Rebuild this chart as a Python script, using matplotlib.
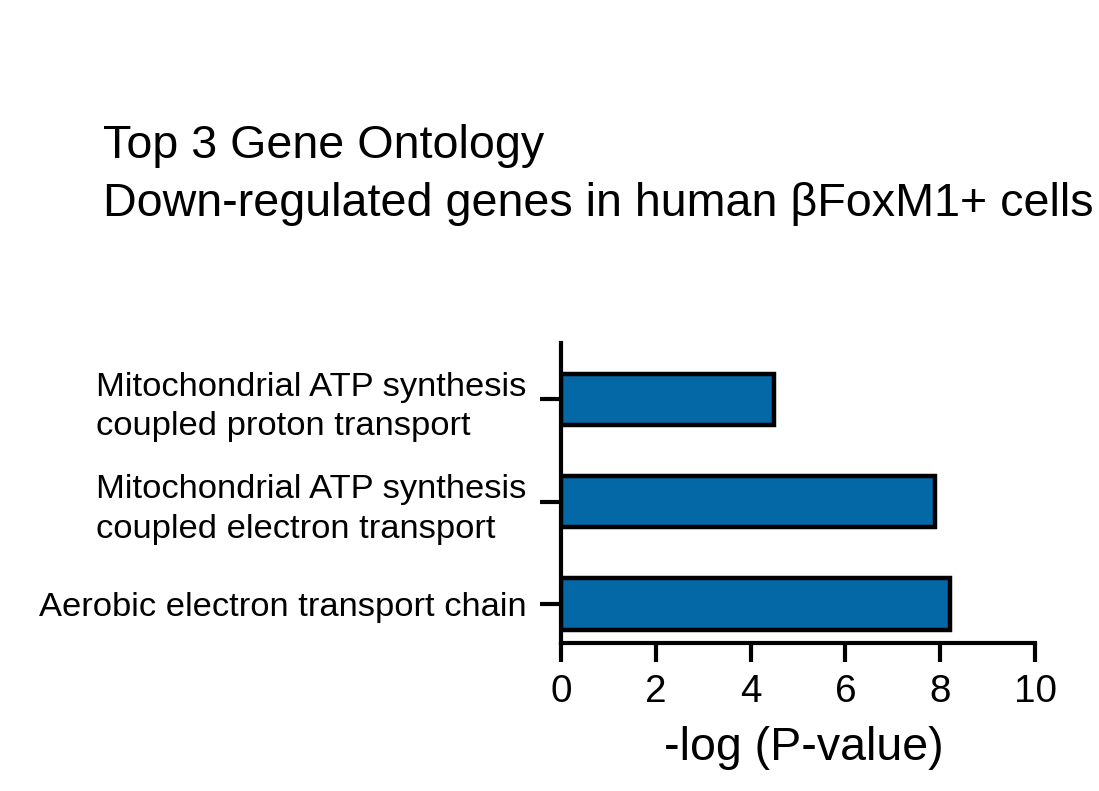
import numpy as np
import matplotlib.pyplot as plt

plt.rcParams['font.family'] = ['Liberation Sans', 'DejaVu Sans']

# categories listed bottom to top
terms = ["Aerobic electron transport chain",
         "Mitochondrial ATP synthesis\ncoupled electron transport",
         "Mitochondrial ATP synthesis\ncoupled proton transport"]
neg_log_p = [8.2, 7.9, 4.5]
x_ticks = [0, 2, 4, 6, 8, 10]

fig = plt.figure(figsize=(10.99, 7.91), dpi=100)
ax = fig.add_axes([0.5105, 0.1871, 0.4313, 0.3793])

y = np.arange(len(terms))
ax.barh(y, neg_log_p, height=0.5, color='#0568A6', edgecolor='black', linewidth=3.2)

ax.set_xlim(0, 10)
ax.set_ylim(-0.38, 2.55)
ax.set_xticks(x_ticks)
ax.set_yticks(y)
ax.set_yticklabels(terms, fontsize=24.8, linespacing=1.35, multialignment='left')
ax.tick_params(axis='x', labelsize=27.8, length=14, width=3, pad=8)
ax.tick_params(axis='y', length=15, width=3, pad=10)
ax.set_xlabel("-log (P-value)", fontsize=33.5, labelpad=12, x=0.513)

for s in ['top', 'right']:
    ax.spines[s].set_visible(False)
for s in ['left', 'bottom']:
    ax.spines[s].set_linewidth(3)

fig.text(0.094, 0.80, "Top 3 Gene Ontology", fontsize=33.6, ha='left', va='baseline')
fig.text(0.094, 0.727, "Down-regulated genes in human \u03b2FoxM1+ cells", fontsize=33.6,
         ha='left', va='baseline')

fig.savefig('out.png', dpi=100)
